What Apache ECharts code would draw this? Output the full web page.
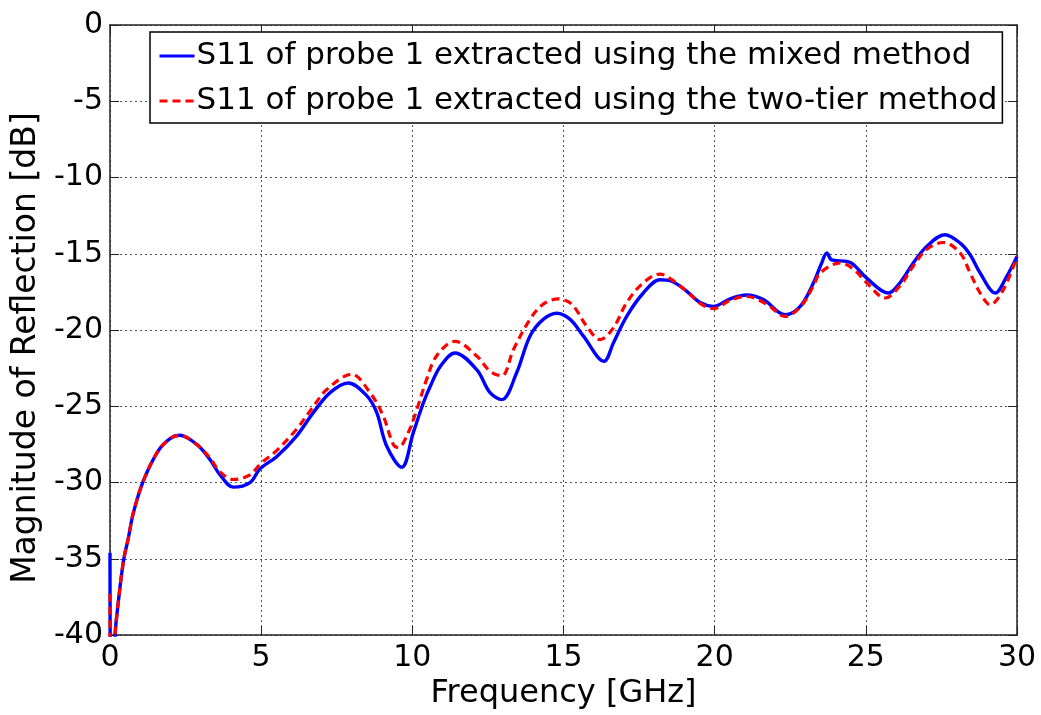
<!DOCTYPE html>
<html>
<head>
<meta charset="utf-8">
<script src="https://cdn.jsdelivr.net/npm/echarts@6/dist/echarts.min.js"></script>
<style>
  html, body { margin: 0; padding: 0; background: #fff; }
  #chart { width: 1041px; height: 715px; }
</style>
</head>
<body>
<div id="chart"></div>
<script>
// ---- data ----
const seriesNames = [
  'S11 of probe 1 extracted using the mixed method',
  'S11 of probe 1 extracted using the two-tier method'
];
const freqMixed = [0, 0.04, 0.17, 0.22, 0.44, 0.61, 0.77, 1.1, 1.6, 2.0, 2.3, 2.87, 3.31, 3.64, 4.08, 4.63, 4.96, 5.51, 6.17, 6.73, 7.28, 7.88, 8.49, 8.82, 9.15, 9.65, 10.03, 10.36, 10.59, 10.92, 11.41, 12.13, 12.57, 12.96, 13.45, 13.89, 14.33, 14.78, 15.22, 15.66, 16.34, 16.65, 17.09, 17.64, 18.19, 18.58, 19.08, 19.52, 19.96, 20.51, 21.06, 21.61, 22.33, 22.83, 23.27, 23.54, 23.71, 23.87, 24.37, 24.59, 25.03, 25.75, 26.13, 26.57, 27.02, 27.62, 28.12, 28.45, 28.78, 29.28, 29.66, 30];
const dbMixed = [-34.6, -48, -40, -38.8, -35.2, -33.6, -32.0, -29.9, -27.9, -27.1, -26.9, -27.5, -28.5, -29.5, -30.3, -30.0, -29.1, -28.3, -26.95, -25.4, -24.1, -23.47, -24.3, -25.4, -27.6, -29.0, -26.74, -24.8, -23.7, -22.4, -21.5, -22.6, -24.1, -24.56, -22.8, -20.4, -19.3, -18.9, -19.3, -20.4, -22.05, -20.85, -19.1, -17.57, -16.7, -16.8, -17.46, -18.2, -18.45, -17.95, -17.7, -18.0, -19.0, -18.45, -16.9, -15.6, -14.95, -15.4, -15.5, -15.7, -16.6, -17.57, -16.9, -15.6, -14.5, -13.75, -14.3, -15.06, -16.26, -17.57, -16.48, -15.17];
const freqTwoTier = [0, 0.04, 0.17, 0.22, 0.44, 0.61, 0.77, 1.1, 1.6, 2.0, 2.3, 2.87, 3.31, 3.64, 4.08, 4.63, 4.96, 5.51, 6.17, 6.73, 7.17, 7.99, 8.6, 9.04, 9.37, 9.54, 9.87, 10.15, 10.47, 10.8, 11.41, 12.13, 12.57, 12.96, 13.34, 13.89, 14.33, 14.83, 15.27, 15.77, 16.21, 16.65, 17.09, 17.64, 18.19, 18.58, 19.08, 19.52, 19.96, 20.51, 21.06, 21.72, 22.33, 22.83, 23.27, 23.49, 24.15, 24.59, 25.03, 25.64, 26.13, 26.57, 27.02, 27.57, 28.12, 28.45, 28.78, 29.11, 29.55, 30];
const dbTwoTier = [-37.3, -48, -40, -38.8, -35.2, -33.6, -32.0, -29.9, -27.9, -27.1, -26.9, -27.5, -28.4, -29.3, -29.8, -29.5, -28.8, -27.9, -26.5, -25.0, -23.9, -22.9, -24.1, -25.65, -27.5, -27.7, -26.7, -25.2, -23.25, -21.7, -20.74, -21.7, -22.7, -23.0, -21.3, -19.3, -18.3, -17.96, -18.3, -19.76, -20.63, -19.86, -18.2, -16.9, -16.33, -16.7, -17.46, -18.25, -18.6, -18.05, -17.8, -18.3, -19.1, -18.5, -17.1, -16.26, -15.6, -16.0, -16.9, -17.9, -17.1, -15.8, -14.7, -14.26, -14.95, -16.26, -17.57, -18.34, -17.35, -15.17];
const xMin = 0, xMax = 30, xStep = 5;
const yMin = -40, yMax = 0, yStep = 5;
const xTitle = 'Frequency [GHz]';
const yTitle = 'Magnitude of Reflection [dB]';

const zip = (xs, ys) => xs.map((x, i) => [x, ys[i]]);

const FONT = 'DejaVu Sans';
const chart = echarts.init(document.getElementById('chart'), null, { renderer: 'canvas' });

const gridLine = { show: true, lineStyle: { color: '#555', type: [2, 3], width: 1 } };
const frameLine = { show: true, onZero: false, lineStyle: { color: '#222', width: 1.5 } };

chart.setOption({
  animation: false,
  backgroundColor: '#fff',
  grid: { left: 110, right: 24, top: 25, bottom: 79, containLabel: false },
  legend: {
    orient: 'vertical',
    left: 150,
    top: 32,
    padding: [6, 5, 4, 8],
    itemGap: 9,
    itemWidth: 35,
    itemHeight: 14,
    borderColor: '#000',
    borderWidth: 1.5,
    backgroundColor: '#fff',
    itemStyle: { opacity: 0 },
    lineStyle: { width: 3 },
    textStyle: { fontFamily: FONT, fontSize: 31, color: '#000', lineHeight: 36, padding: [0, 0, 0, -3] },
    data: seriesNames
  },
  xAxis: [
    {
      type: 'value', min: xMin, max: xMax, interval: xStep, position: 'bottom',
      name: xTitle, nameLocation: 'middle', nameGap: 36,
      nameTextStyle: { fontFamily: FONT, fontSize: 32, color: '#000' },
      axisLine: frameLine,
      axisTick: { show: true, inside: true, length: 9, lineStyle: { color: '#222' } },
      axisLabel: { fontFamily: FONT, fontSize: 30, color: '#000', margin: 8 },
      splitLine: gridLine
    },
    {
      type: 'value', min: xMin, max: xMax, interval: xStep, position: 'top',
      axisLine: frameLine,
      axisTick: { show: true, inside: true, length: 9, lineStyle: { color: '#222' } },
      axisLabel: { show: false },
      splitLine: { show: false }
    }
  ],
  yAxis: [
    {
      type: 'value', min: yMin, max: yMax, interval: yStep, position: 'left',
      name: yTitle, nameLocation: 'middle', nameGap: 60,
      nameTextStyle: { fontFamily: FONT, fontSize: 33, color: '#000', padding: [0, 36, 0, 0] },
      axisLine: frameLine,
      axisTick: { show: true, inside: true, length: 9, lineStyle: { color: '#222' } },
      axisLabel: { fontFamily: FONT, fontSize: 30, color: '#000', margin: 7 },
      splitLine: gridLine
    },
    {
      type: 'value', min: yMin, max: yMax, interval: yStep, position: 'right',
      axisLine: frameLine,
      axisTick: { show: true, inside: true, length: 9, lineStyle: { color: '#222' } },
      axisLabel: { show: false },
      splitLine: { show: false }
    }
  ],
  series: [
    {
      name: seriesNames[0], type: 'line', xAxisIndex: 0, yAxisIndex: 0,
      data: zip(freqMixed, dbMixed),
      showSymbol: false, symbol: 'none', smooth: 0.35, clip: true,
      lineStyle: { color: '#0000ff', width: 3.4, type: 'solid' },
      itemStyle: { color: '#0000ff' },
      z: 3
    },
    {
      name: seriesNames[1], type: 'line', xAxisIndex: 0, yAxisIndex: 0,
      data: zip(freqTwoTier, dbTwoTier),
      showSymbol: false, symbol: 'none', smooth: 0.35, clip: true,
      lineStyle: { color: '#ff0000', width: 3.2, type: [8, 5] },
      itemStyle: { color: '#ff0000' },
      z: 4
    }
  ]
});
</script>
</body>
</html>
